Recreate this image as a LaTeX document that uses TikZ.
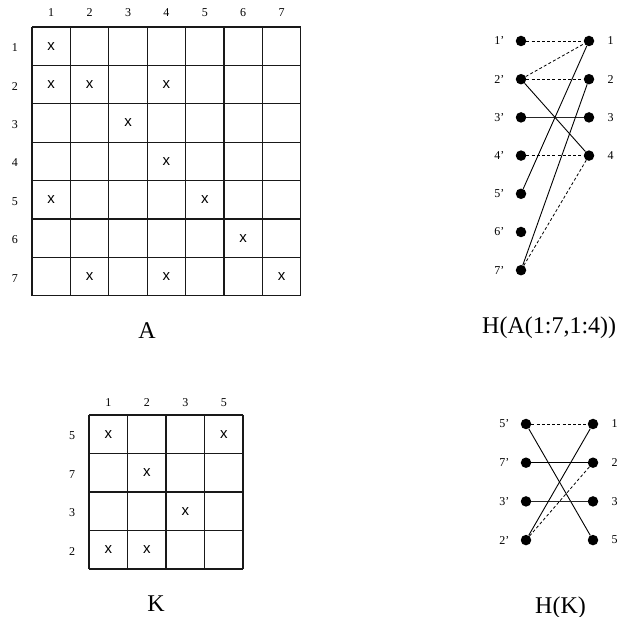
\documentclass[tikz,border=0pt]{standalone}
\usepackage{fontspec}
\setmainfont{Liberation Serif}
\newfontfamily\markfont{Liberation Sans}
\begin{document}
\begin{tikzpicture}[x=1pt,y=-1pt,
  gridline/.style={line width=1.2pt,black!90},
  idx/.style={font=\fontsize{12}{14}\selectfont,inner sep=0pt},
  cellmark/.style={font=\markfont\fontsize{15}{17}\selectfont,inner sep=0pt},
  caption/.style={font=\fontsize{24}{28}\selectfont,inner sep=0pt},
  vtx/.style={circle,fill=black,inner sep=0pt,minimum size=10.5pt},
  vlab/.style={font=\fontsize{12}{14}\selectfont,inner sep=0pt},
  match/.style={line width=0.8pt,dash pattern=on 3pt off 2.2pt},
  edge/.style={line width=0.9pt},
  flat/.style={line width=1.3pt,black!85}]
\useasboundingbox (0,0) rectangle (619,617);

% ---- matrix A (7 x 7) ----
\def\ax{32}\def\ay{27}\def\ac{38.4}
\foreach \i in {0,...,7}{
  \draw[gridline] (\ax+\i*\ac,\ay) -- (\ax+\i*\ac,\ay+7*\ac);
  \draw[gridline] (\ax,\ay+\i*\ac) -- (\ax+7*\ac,\ay+\i*\ac);
}
\foreach \i in {1,...,7}{
  \node[idx] (acol\i) at (\ax+\i*\ac-0.5*\ac,13) {\i};
  \node[idx] (arow\i) at (15,\ay+\i*\ac-0.5*\ac+1.5) {\i};
}
\foreach \r/\c in {1/1,2/1,2/2,2/4,3/3,4/4,5/1,5/5,6/6,7/2,7/4,7/7}{
  \node[cellmark] (ax\r\c) at (\ax+\c*\ac-0.5*\ac,\ay+\r*\ac-0.5*\ac) {x};
}
\node[caption,anchor=base] (capA) at (147,339) {A};

% ---- matrix K (4 x 4) ----
\def\kx{89}\def\ky{415}\def\kc{38.5}
\foreach \i in {0,...,4}{
  \draw[gridline] (\kx+\i*\kc,\ky) -- (\kx+\i*\kc,\ky+4*\kc);
  \draw[gridline] (\kx,\ky+\i*\kc) -- (\kx+4*\kc,\ky+\i*\kc);
}
\foreach \lab [count=\i] in {1,2,3,5}{
  \node[idx] (kcol\i) at (\kx+\i*\kc-0.5*\kc,403) {\lab};
}
\foreach \lab [count=\i] in {5,7,3,2}{
  \node[idx] (krow\i) at (72,\ky+\i*\kc-0.5*\kc+1.5) {\lab};
}
\foreach \r/\c in {1/1,1/4,2/2,3/3,4/1,4/2}{
  \node[cellmark] (kx\r\c) at (\kx+\c*\kc-0.5*\kc,\ky+\r*\kc-0.5*\kc) {x};
}
\node[caption,anchor=base] (capK) at (156,612) {K};

% ---- bipartite graph H(A(1:7,1:4)) ----
\foreach \i in {1,...,7}{
  \node[vtx,label={[vlab,xshift=-11pt]left:\i’}] (r\i) at (521,41+\i*38.2-38.2) {};
}
\foreach \i in {1,...,4}{
  \node[vtx,label={[vlab,xshift=13pt]right:\i}] (c\i) at (589,41+\i*38.2-38.2) {};
}
\draw[match] (r1) -- (c1);
\draw[match] (r2) -- (c1);
\draw[match] (r2) -- (c2);
\draw[match] (r4) -- (c4);
\draw[match] (r7) -- (c4);
\draw[edge] (r2) -- (c4);
\draw[flat] (r3) -- (c3);
\draw[edge] (r5) -- (c1);
\draw[edge] (r7) -- (c2);
\node[caption,anchor=base west] (capHA) at (482,334) {H(A(1:7,1:4))};

% ---- bipartite graph H(K) ----
\foreach \lab [count=\i] in {5,7,3,2}{
  \node[vtx,label={[vlab,xshift=-11pt]left:\lab’}] (kr\lab) at (526,424+\i*38.7-38.7) {};
}
\foreach \lab [count=\i] in {1,2,3,5}{
  \node[vtx,label={[vlab,xshift=13pt]right:\lab}] (kc\lab) at (593,424+\i*38.7-38.7) {};
}
\draw[match] (kr5) -- (kc1);
\draw[match] (kr2) -- (kc2);
\draw[edge] (kr5) -- (kc5);
\draw[edge] (kr7) -- (kc2);
\draw[flat] (kr3) -- (kc3);
\draw[edge] (kr2) -- (kc1);
\node[caption,anchor=base] (capHK) at (560.5,613) {H(K)};
\end{tikzpicture}
\end{document}
